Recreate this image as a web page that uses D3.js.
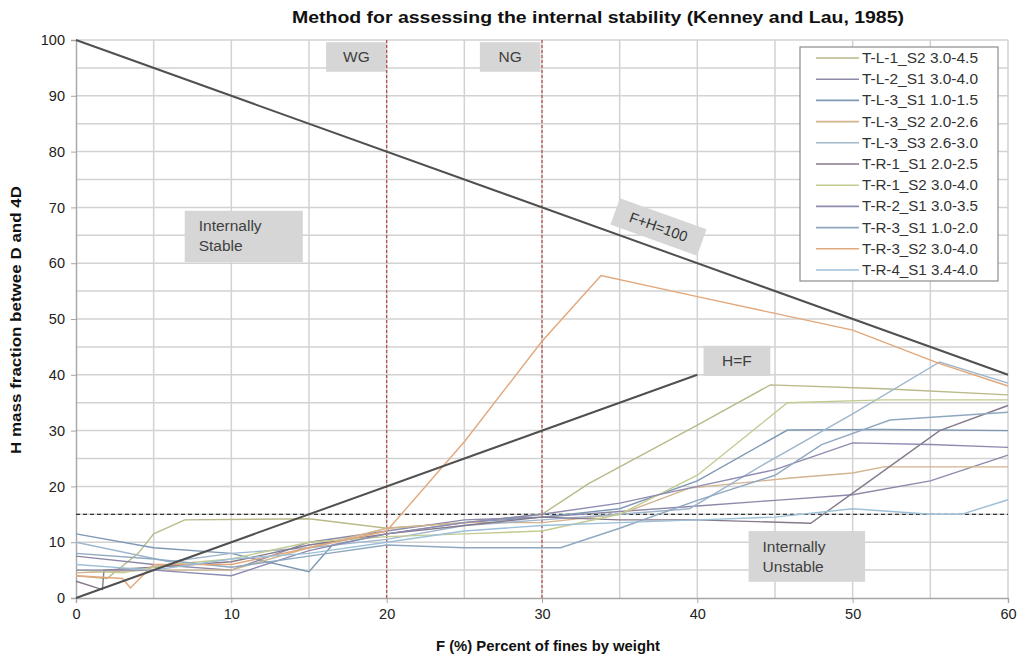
<!DOCTYPE html>
<html>
<head>
<meta charset="utf-8">
<script src="https://cdn.jsdelivr.net/npm/d3@7"></script>
<style>
  body { margin: 0; background: #fff; }
  svg { font-family: "Liberation Sans", Arial, sans-serif; }
</style>
</head>
<body>
<script>
// series names (legend order)
const seriesNames = [
  'T-L-1_S2 3.0-4.5', 'T-L-2_S1 3.0-4.0', 'T-L-3_S1 1.0-1.5', 'T-L-3_S2 2.0-2.6',
  'T-L-3_S3 2.6-3.0', 'T-R-1_S1 2.0-2.5', 'T-R-1_S2 3.0-4.0', 'T-R-2_S1 3.0-3.5',
  'T-R-3_S1 1.0-2.0', 'T-R-3_S2 3.0-4.0', 'T-R-4_S1 3.4-4.0'
]
const seriesColors = ['#b9b98a', '#8c8aa8', '#7f98b5', '#d2b48e', '#9fb6cc', '#86798c',
  '#c2cc92', '#8e8bb0', '#8fa8c0', '#e2a77a', '#9cc0d8']

// [F, H] points per series
const tL1S2 = [[0,4],[2,3.5],[4,8],[5,11.5],[7,14],[15,14.2],[20,12.5],[25,13.5],[30,15],[33,20.5],[40,31],[44.7,38.2],[52,37.5],[60,36.4]]
const tL2S1 = [[0,7.5],[5,6],[10,5],[15,10],[20,12],[25,14],[30,14.5],[35,15.5],[40,16.5],[45,17.5],[50,18.5],[55,21],[60,25.6]]
const tL3S1 = [[0,11.5],[5,9],[10,8],[15,4.7],[16.5,9.5],[20,11.5],[25,13.5],[30,14.5],[35,16],[40,21],[45.8,30.1],[52,30.2],[60,30]]
const tL3S2 = [[0,4.5],[5,5],[10,5],[15,9],[20,12.5],[25,13.5],[30,13.5],[35,15],[39.5,19.7],[46,21.5],[50,22.4],[52,23.5],[60,23.5]]
const tL3S3 = [[0,10],[6,6.5],[10,8],[15,9],[20,10.5],[25,13],[30,14],[35,15],[39.5,16],[44,23.5],[50,33],[55.6,42.3],[60,38.5]]
const tR1S1 = [[0,3],[1.7,1.5],[1.8,5],[5,5.5],[10,6.5],[15,9.5],[20,11.5],[25,13],[30,14.5],[35,14],[40,14],[47.3,13.4],[50,18.8],[55.6,30],[60,34.5]]
const tR1S2 = [[0,5],[3,4.5],[6,6],[10,7],[15,10],[20,11],[25,11.5],[30,12],[35,15],[40,22],[45.8,35],[52,35.5],[60,35.5]]
const tR2S1 = [[0,5],[5,5],[10,4],[15,8.5],[20,11.5],[25,13.5],[30,15],[35,17],[40,20],[45,23],[50,27.8],[55,27.5],[60,27]]
const tR3S1 = [[0,8],[5,7],[10,5.5],[15,7.5],[20,9.5],[25,9],[31.2,9],[35,12.5],[40,17.5],[45,22],[48,27.5],[52.4,31.9],[60,33.3]]
const tR3S2 = [[0,4],[3,3.5],[3.5,1.8],[5,6],[10,6],[15,9],[20,12],[25,28],[30,46],[33.8,57.8],[40,54],[45,51],[50,48],[55.6,42],[60,38]]
const tR4S1 = [[0,6],[5,5],[10,7],[15,8],[20,10],[25,12],[30,13],[35,13.5],[40,14],[45,14.5],[50,16],[55,15],[57,15],[60,17.6]]
const seriesData = [tL1S2, tL2S1, tL3S1, tL3S2, tL3S3, tR1S1, tR1S2, tR2S1, tR3S1, tR3S2, tR4S1]

// criteria lines
const lineSum = [[0,100],[60,40]]   // F+H=100
const lineEq = [[0,0],[40,40]]      // H=F
const zoneF = [20, 30]
const limitH = 15

const xTicks = [0,10,20,30,40,50,60]
const yTicks = [0,10,20,30,40,50,60,70,80,90,100]

const W = 1018, H = 657
const m = {left:76, right:10, top:40, bottom:59}

const svg = d3.select('body').append('svg').attr('width',W).attr('height',H)

const x = d3.scaleLinear().domain([0,60]).range([m.left, W-m.right])
const y = d3.scaleLinear().domain([0,100]).range([H-m.bottom, m.top])

// grid
const grid = svg.append('g')
grid.selectAll('line.v').data(d3.range(5,61,5)).join('line')
  .attr('x1',d => x(d)).attr('x2',d => x(d)).attr('y1',y(0)).attr('y2',y(100))
  .attr('stroke','#d2d2d2').attr('stroke-width',1.5)
grid.selectAll('line.h').data(d3.range(5,101,5)).join('line')
  .attr('x1',x(0)).attr('x2',x(60)).attr('y1',d => y(d)).attr('y2',d => y(d))
  .attr('stroke','#d2d2d2').attr('stroke-width',1.5)

// axes
const xAxis = svg.append('g').attr('transform',`translate(0,${y(0)})`)
  .call(d3.axisBottom(x).tickValues(xTicks).tickSize(5).tickPadding(6))
const yAxis = svg.append('g').attr('transform',`translate(${x(0)},0)`)
  .call(d3.axisLeft(y).tickValues(yTicks).tickSize(5).tickPadding(6))
;[xAxis, yAxis].forEach(a => {
  a.select('.domain').attr('stroke','#a6a6a6').attr('stroke-width',1.4)
  a.selectAll('.tick line').attr('stroke','#a6a6a6')
  a.selectAll('text').attr('font-size',14.5).attr('fill','#222')
})

// label boxes
function box(f0, h0, f1, h1){
  svg.append('rect').attr('x',x(f0)).attr('y',y(h0)).attr('width',x(f1)-x(f0)).attr('height',y(h1)-y(h0))
    .attr('fill','#d6d6d6')
}
box(16.1,99.6,20,94.3)
box(26,99.6,29.9,94.3)
box(7,69.4,14.6,60.2)
box(40.4,45.2,44.7,39.8)
box(43.3,12,50.8,2.9)

// zone lines
svg.append('g').selectAll('line').data(zoneF).join('line')
  .attr('x1',d => x(d)).attr('x2',d => x(d)).attr('y1',y(0)).attr('y2',y(100))
  .attr('stroke','#b24a4a').attr('stroke-width',1.2).attr('stroke-dasharray','3,2')
svg.append('line').attr('x1',x(0)).attr('x2',x(60)).attr('y1',y(limitH)).attr('y2',y(limitH))
  .attr('stroke','#333').attr('stroke-width',1.2).attr('stroke-dasharray','4,3')

// data series
const line = d3.line().x(d => x(d[0])).y(d => y(d[1]))
svg.append('g').selectAll('path').data(seriesData).join('path')
  .attr('d',line).attr('fill','none')
  .attr('stroke',(d,i) => seriesColors[i]).attr('stroke-width',1.4)

// criteria lines
svg.append('g').selectAll('path').data([lineSum,lineEq]).join('path')
  .attr('d',line).attr('fill','none').attr('stroke','#505050').attr('stroke-width',2)

// F+H=100 label (rotated along the line)
const ang = Math.atan2(y(40)-y(100), x(60)-x(0))*180/Math.PI
const lbl = svg.append('g').attr('transform',`translate(${x(37.5)},${y(66.5)}) rotate(${ang})`)
lbl.append('rect').attr('x',-46).attr('y',-14).attr('width',92).attr('height',28).attr('fill','#d6d6d6')
lbl.append('text').attr('text-anchor','middle').attr('dy','0.35em').attr('font-size',14.5).attr('fill','#333').text('F+H=100')

// box texts
const texts = [
  {t:['WG'], f:18.05, h:97, a:'middle'},
  {t:['NG'], f:27.95, h:97, a:'middle'},
  {t:['Internally','Stable'], f:7.9, h:66.7, a:'start'},
  {t:['H=F'], f:42.55, h:42.5, a:'middle'},
  {t:['Internally','Unstable'], f:44.2, h:9.3, a:'start'},
]
texts.forEach(o => {
  const tx = svg.append('text').attr('x',x(o.f)).attr('y',y(o.h)).attr('text-anchor',o.a)
    .attr('font-size',15.5).attr('fill','#404040')
  o.t.forEach((s,i) => tx.append('tspan').attr('x',x(o.f)).attr('dy',i ? 20 : '0.35em').text(s))
})

// legend
const lg = svg.append('g').attr('transform','translate(800,47)')
lg.append('rect').attr('width',198).attr('height',234).attr('fill','#fff').attr('stroke','#8c8c8c').attr('stroke-width',1.2)
const it = lg.selectAll('g').data(seriesNames).join('g').attr('transform',(d,i) => `translate(0,${11+i*21.2})`)
it.append('line').attr('x1',16).attr('x2',59).attr('stroke',(d,i) => seriesColors[i]).attr('stroke-width',1.6)
it.append('text').attr('x',62).attr('dy','0.35em').attr('font-size',14).attr('fill','#333')
  .attr('textLength',116).attr('lengthAdjust','spacingAndGlyphs').text(d => d)

// title and axis titles
svg.append('text').attr('x',598).attr('y',23).attr('text-anchor','middle').attr('font-size',17)
  .attr('font-weight','bold').attr('fill','#111')
  .attr('textLength',612).attr('lengthAdjust','spacingAndGlyphs')
  .text('Method for assessing  the internal stability (Kenney and Lau, 1985)')
svg.append('text').attr('x',548).attr('y',651).attr('text-anchor','middle').attr('font-size',15)
  .attr('font-weight','bold').attr('fill','#111')
  .attr('textLength',224).attr('lengthAdjust','spacingAndGlyphs').text('F (%) Percent of fines by weight')
svg.append('text').attr('transform','translate(21,320) rotate(-90)').attr('text-anchor','middle').attr('font-size',15)
  .attr('font-weight','bold').attr('fill','#111')
  .attr('textLength',268).attr('lengthAdjust','spacingAndGlyphs').text('H mass fraction betwee D and 4D')
</script>
</body>
</html>
